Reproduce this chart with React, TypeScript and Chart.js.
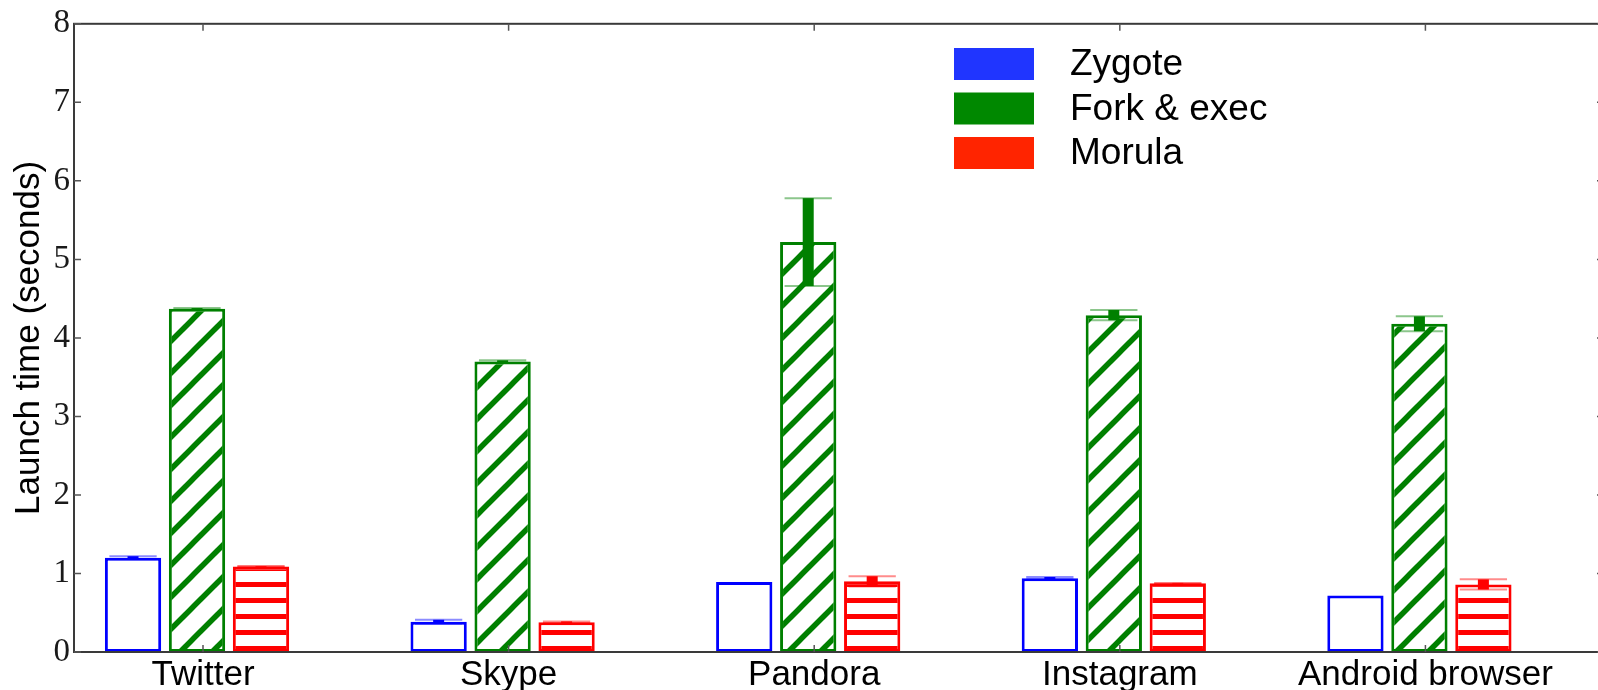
import React, { useEffect, useRef } from 'react';
import { Chart, registerables } from 'chart.js';

Chart.register(...registerables);

// ---------- data ----------
const categories = ['Twitter', 'Skype', 'Pandora', 'Instagram', 'Android browser'];
const seriesLabels = ['Zygote', 'Fork & exec', 'Morula'];

const zygote = [1.2, 0.385, 0.89, 0.94, 0.72];
const zygoteErr = [0.02, 0.025, 0, 0.015, 0];

const forkExec = [4.37, 3.7, 5.22, 4.29, 4.18];
const forkExecErr = [0.01, 0.015, 0.56, 0.065, 0.095];

const morula = [1.09, 0.38, 0.9, 0.875, 0.86];
const morulaErr = [0.005, 0.01, 0.065, 0.005, 0.065];

const yTicks = [0, 1, 2, 3, 4, 5, 6, 7, 8];

// ---------- style ----------
const edgeColors = ['#0000ff', '#008000', '#ff0000'];
const capColors = ['rgba(0,0,255,0.45)', 'rgba(0,128,0,0.45)', 'rgba(255,0,0,0.45)'];
const legendColors = ['#2035ff', '#008800', '#ff2400'];
const CANVAS_W = 1610;
const CANVAS_H = 690;
const X_MIN = -0.4025;
const X_MAX = 4.604;
const TICK_LABEL_SHIFT = 6;

function makeHatch(ctx: CanvasRenderingContext2D, kind: string, color: string) {
  const tile = document.createElement('canvas');
  const s = kind === 'diag' ? 32 : 16;
  tile.width = s;
  tile.height = s;
  const g = tile.getContext('2d')!;
  g.fillStyle = '#ffffff';
  g.fillRect(0, 0, s, s);
  if (kind === 'diag') {
    g.strokeStyle = color;
    g.lineWidth = 5.5;
    g.lineCap = 'square';
    for (const k of [-2, -1, 0, 1, 2]) {
      g.beginPath();
      g.moveTo(k * s - s, 2 * s);
      g.lineTo(k * s + 2 * s, -s);
      g.stroke();
    }
  } else if (kind === 'horiz') {
    g.fillStyle = color;
    g.fillRect(0, 6, s, 5);
  }
  return ctx.createPattern(tile, 'repeat');
}

const errorBarPlugin = {
  id: 'errorBars',
  afterDatasetsDraw(chart: any, _args: any, opts: any) {
    const ctx = chart.ctx;
    const y = chart.scales.y;
    chart.data.datasets.forEach((ds: any, di: number) => {
      const meta = chart.getDatasetMeta(di);
      const errs = opts.errors[di];
      meta.data.forEach((bar: any, i: number) => {
        const err = errs[i];
        if (!err) return;
        const v = ds.data[i].y;
        const top = y.getPixelForValue(v + err);
        const bot = y.getPixelForValue(v - err);
        const x = bar.x;
        const w = bar.width;
        ctx.save();
        ctx.fillStyle = edgeColors[di];
        ctx.fillRect(x - 5.5, top, 11, bot - top);
        ctx.strokeStyle = capColors[di];
        ctx.lineWidth = 2;
        const cw = w * 0.84;
        for (const py of [top, bot]) {
          ctx.beginPath();
          ctx.moveTo(x - cw / 2, py);
          ctx.lineTo(x + cw / 2, py);
          ctx.stroke();
        }
        ctx.restore();
      });
    });
  },
};

const framePlugin = {
  id: 'frame',
  afterDraw(chart: any) {
    const { ctx, chartArea: a, scales } = chart;
    ctx.save();
    ctx.strokeStyle = '#3a3a3a';
    ctx.lineWidth = 2;
    ctx.strokeRect(a.left, a.top, a.right - a.left, a.bottom - a.top);
    ctx.lineWidth = 1.5;
    ctx.strokeStyle = '#555555';
    const tl = 7;
    yTicks.forEach((v) => {
      const py = scales.y.getPixelForValue(v);
      ctx.beginPath();
      ctx.moveTo(a.left, py);
      ctx.lineTo(a.left + tl, py);
      ctx.moveTo(a.right, py);
      ctx.lineTo(a.right - tl, py);
      ctx.stroke();
    });
    categories.forEach((_c, i) => {
      const px = scales.x.getPixelForValue(i) + TICK_LABEL_SHIFT;
      ctx.beginPath();
      ctx.moveTo(px, a.bottom);
      ctx.lineTo(px, a.bottom - tl);
      ctx.moveTo(px, a.top);
      ctx.lineTo(px, a.top + tl);
      ctx.stroke();
    });
    ctx.restore();
  },
};

const legendPlugin = {
  id: 'boxLegend',
  afterDraw(chart: any) {
    const ctx = chart.ctx;
    ctx.save();
    ctx.font = '37px "Liberation Sans", Arial, sans-serif';
    ctx.textBaseline = 'alphabetic';
    ctx.textAlign = 'left';
    chart.data.datasets.forEach((ds: any, i: number) => {
      const top = 48 + i * 44.5;
      ctx.fillStyle = legendColors[i];
      ctx.fillRect(954, top, 80, 32);
      ctx.fillStyle = '#000000';
      ctx.fillText(ds.label, 1070, top + 27);
    });
    ctx.restore();
  },
};

export default function App() {
  const canvasRef = useRef<HTMLCanvasElement | null>(null);

  useEffect(() => {
    const canvas = canvasRef.current!;
    const ctx = canvas.getContext('2d')!;
    const greenHatch = makeHatch(ctx, 'diag', '#008000');
    const redHatch = makeHatch(ctx, 'horiz', '#ff0000');
    const toPoints = (vals: number[]) => vals.map((v, i) => ({ x: i, y: v }));

    const chart = new Chart(canvas, {
      type: 'bar',
      data: {
        datasets: [
          {
            label: seriesLabels[0],
            data: toPoints(zygote),
            backgroundColor: '#ffffff',
            borderColor: edgeColors[0],
            borderWidth: 3,
            borderSkipped: false,
          },
          {
            label: seriesLabels[1],
            data: toPoints(forkExec),
            backgroundColor: greenHatch as any,
            borderColor: edgeColors[1],
            borderWidth: 3,
            borderSkipped: false,
          },
          {
            label: seriesLabels[2],
            data: toPoints(morula),
            backgroundColor: redHatch as any,
            borderColor: edgeColors[2],
            borderWidth: 3,
            borderSkipped: false,
          },
        ],
      },
      options: {
        responsive: false,
        animation: false,
        devicePixelRatio: 1,
        layout: { padding: { top: 21, right: 6, left: 0, bottom: 0 } },
        datasets: {
          bar: { categoryPercentage: 0.628, barPercentage: 0.88, grouped: true },
        },
        plugins: {
          legend: { display: false },
          tooltip: { enabled: false },
          errorBars: { errors: [zygoteErr, forkExecErr, morulaErr] },
        } as any,
        scales: {
          x: {
            type: 'linear',
            min: X_MIN,
            max: X_MAX,
            offset: false,
            grid: { display: false, drawTicks: false },
            border: { display: false },
            afterBuildTicks: (scale: any) => {
              scale.ticks = categories.map((_c, i) => ({ value: i }));
            },
            afterFit: (scale: any) => {
              scale.height = 38;
            },
            ticks: {
              autoSkip: false,
              maxRotation: 0,
              minRotation: 0,
              padding: 2,
              labelOffset: TICK_LABEL_SHIFT,
              color: '#000000',
              font: { family: '"Liberation Sans", Arial, sans-serif', size: 35 },
              callback: (value: any) => categories[Math.round(Number(value))] ?? '',
            },
          },
          y: {
            type: 'linear',
            min: 0,
            max: 8,
            grid: { display: false, drawTicks: false },
            border: { display: false },
            afterBuildTicks: (scale: any) => {
              scale.ticks = yTicks.map((v) => ({ value: v }));
            },
            afterFit: (scale: any) => {
              scale.width = 74;
            },
            ticks: {
              padding: 4,
              color: '#1a1a1a',
              font: { family: '"Liberation Serif", "Times New Roman", serif', size: 33 },
              callback: (value: any) => String(value),
            },
            title: {
              display: true,
              text: 'Launch time (seconds)',
              color: '#000000',
              font: { family: '"Liberation Sans", Arial, sans-serif', size: 35 },
              padding: { top: 8, bottom: 0 },
            },
          },
        },
      } as any,
      plugins: [errorBarPlugin, framePlugin, legendPlugin],
    });

    return () => chart.destroy();
  }, []);

  return (
    <div
      style={{
        position: 'fixed',
        left: 0,
        top: 0,
        width: 1598,
        height: 690,
        overflow: 'hidden',
        background: '#ffffff',
      }}
    >
      <canvas
        ref={canvasRef}
        width={CANVAS_W}
        height={CANVAS_H}
        style={{ display: 'block', width: CANVAS_W, height: CANVAS_H }}
      />
    </div>
  );
}
